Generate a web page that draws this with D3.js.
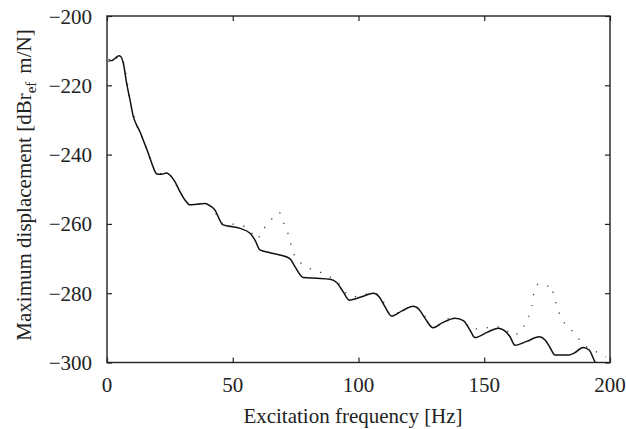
<!DOCTYPE html>
<html>
<head>
<meta charset="utf-8">
<script src="https://cdn.jsdelivr.net/npm/d3@7"></script>
<style>
  body { margin: 0; background: #fff; }
</style>
</head>
<body>
<script>
// solid curve: frequency [Hz] and displacement [dB]
const solidFreq = [0.6, 1.9, 3.2, 4.8, 5.45, 6.5, 7.8, 9.15, 10.5, 11.8, 13.1, 14.4, 16.4, 17.8, 19.1, 19.8,
  21.7, 23.7, 25.0, 27.0, 29.0, 31.0, 33.0, 35.7, 39.0, 41.0, 43.0, 44.65, 45.9, 48.2, 52.9, 56.9,
  58.8, 60.8, 64.8, 69.5, 72.8, 74.8, 78.1, 83.4, 88.7, 91.3, 94.0, 96.3, 101.3, 105.9, 108.2, 110.5,
  113.2, 117.3, 121.8, 124.1, 126.4, 129.7, 133.4, 138.4, 141.7, 144.3, 146.3, 151.1, 155.6, 157.6,
  160.2, 162.2, 166.9, 171.8, 174.2, 176.1, 178.1, 183.7, 185.7, 189.3, 191.7, 194.0, 195.0]
const solidDisp = [-212.6, -212.9, -212.2, -211.5, -211.7, -213.65, -219.4, -224.2, -229.1, -231.5, -233.4, -235.8, -239.6, -242.5, -244.9, -245.6,
  -245.7, -245.3, -245.9, -247.8, -250.7, -253.1, -254.5, -254.3, -254.1, -254.8, -256.1, -258.6, -260.2, -260.6, -261.3, -262.7,
  -264.6, -267.5, -268.3, -269.1, -270.1, -272.4, -275.5, -275.7, -276.0, -276.9, -279.7, -282.0, -281.0, -280.0, -281.0, -283.9,
  -286.6, -285.1, -283.8, -284.7, -287.2, -290.0, -288.5, -287.2, -287.9, -290.6, -292.8, -291.3, -290.1, -290.6,
  -292.5, -295.0, -293.9, -292.6, -293.5, -295.6, -297.8, -297.8, -297.3, -295.7, -296.4, -299.8, -301.0]

// dotted curve
const dotFreq = [0.6, 2.0, 3.6, 5.4, 6.8, 9.15, 11.8, 14.4, 17.8, 19.8, 23.7, 25.0, 29.0, 33.0, 39.0, 41.0,
  44.65, 46.1, 48.2, 52.9, 56.9, 59.8, 61.5, 63.5, 65.5, 67.7, 68.5, 70.1, 71.85, 73.0, 74.35, 77.0,
  80.7, 85.0, 88.9, 91.45, 94.0, 97.9, 101.3, 105.9, 108.5, 113.2, 117.8, 121.8, 124.5, 130.0, 133.5,
  137.7, 141.7, 144.7, 149.4, 153.6, 157.9, 160.9, 163.9, 166.4, 168.2, 169.3, 169.8, 171.8, 173.4,
  174.95, 176.4, 177.6, 178.9, 180.5, 182.9, 186.2, 188.9, 192.5, 196.3, 198.4]
const dotDisp = [-213.0, -213.65, -212.3, -211.7, -213.9, -224.2, -231.5, -235.8, -242.5, -245.6, -245.3, -245.9, -250.7, -254.5, -254.1, -254.8,
  -258.6, -259.9, -260.0, -260.3, -262.0, -264.4, -262.0, -260.5, -258.6, -256.9, -256.7, -259.5, -262.5, -265.6, -268.8, -271.2,
  -272.9, -274.0, -275.4, -276.5, -279.1, -281.0, -280.5, -279.9, -280.8, -286.3, -284.8, -283.8, -284.7, -290.2, -288.0,
  -287.1, -287.7, -290.3, -290.2, -289.7, -290.0, -292.1, -291.4, -288.7, -285.6, -282.5, -279.4, -277.3, -277.5,
  -278.0, -277.5, -280.6, -283.8, -286.9, -289.5, -291.8, -294.5, -296.2, -297.5, -298.4]

const xTicks = [0, 50, 100, 150, 200]
const yTicks = [-300, -280, -260, -240, -220, -200]

const W = 626, H = 429
const margin = {top: 16, right: 16, bottom: 66.5, left: 107}
const width = W - margin.left - margin.right
const height = H - margin.top - margin.bottom
const serif = 'Liberation Serif'

const svg = d3.select('body').append('svg')
    .attr('width', W)
    .attr('height', H)

const xScale = d3.scaleLinear().domain([0, 200]).range([margin.left, margin.left + width])
const yScale = d3.scaleLinear().domain([-300, -200]).range([margin.top + height, margin.top])

svg.append('defs').append('clipPath').attr('id', 'plotclip')
  .append('rect')
    .attr('x', margin.left).attr('y', margin.top)
    .attr('width', width).attr('height', height)

const solid = solidFreq.map((f, i) => ({f: f, v: solidDisp[i]}))
const dotted = dotFreq.map((f, i) => ({f: f, v: dotDisp[i]}))

const line = d3.line()
    .x(d => xScale(d.f))
    .y(d => yScale(d.v))
    .curve(d3.curveMonotoneX)

const plot = svg.append('g').attr('clip-path', 'url(#plotclip)')

plot.append('path')
    .datum(dotted)
    .attr('d', line)
    .attr('fill', 'none')
    .attr('stroke', '#444')
    .attr('stroke-width', 1.3)
    .attr('stroke-dasharray', '1.3,9.7')

plot.append('path')
    .datum(solid)
    .attr('d', line)
    .attr('fill', 'none')
    .attr('stroke', '#111')
    .attr('stroke-width', 1.5)

// axes with inward ticks, mirrored on top and right
const tk = 5
svg.append('g')
    .attr('transform', 'translate(0,' + (margin.top + height) + ')')
    .call(d3.axisTop(xScale).tickValues(xTicks).tickSize(tk).tickFormat(''))
svg.append('g')
    .attr('transform', 'translate(0,' + margin.top + ')')
    .call(d3.axisBottom(xScale).tickValues(xTicks).tickSize(tk).tickFormat(''))
svg.append('g')
    .attr('transform', 'translate(' + margin.left + ',0)')
    .call(d3.axisRight(yScale).tickValues(yTicks).tickSize(tk).tickFormat(''))
svg.append('g')
    .attr('transform', 'translate(' + (margin.left + width) + ',0)')
    .call(d3.axisLeft(yScale).tickValues(yTicks).tickSize(tk).tickFormat(''))

svg.selectAll('.domain').remove()
svg.selectAll('.tick line').attr('stroke', '#222').attr('stroke-width', 1.2)

svg.append('rect')
    .attr('x', margin.left).attr('y', margin.top)
    .attr('width', width).attr('height', height)
    .attr('fill', 'none')
    .attr('stroke', '#222')
    .attr('stroke-width', 1.4)

// tick labels
svg.selectAll('.xlab').data(xTicks).enter()
  .append('text')
    .attr('x', d => xScale(d))
    .attr('y', margin.top + height + 29)
    .attr('text-anchor', 'middle')
    .attr('font-family', serif)
    .attr('font-size', 21)
    .attr('fill', '#222')
    .text(d => d)

svg.selectAll('.ylab').data(yTicks).enter()
  .append('text')
    .attr('x', margin.left - 15)
    .attr('y', d => yScale(d) + 7.5)
    .attr('text-anchor', 'end')
    .attr('font-family', serif)
    .attr('font-size', 21)
    .attr('fill', '#222')
    .text(d => '\u2212' + Math.abs(d))

svg.append('text')
    .attr('x', 353)
    .attr('y', 423)
    .attr('text-anchor', 'middle')
    .attr('font-family', serif)
    .attr('font-size', 21)
    .attr('fill', '#222')
    .text('Excitation frequency [Hz]')

const ylab = svg.append('text')
    .attr('transform', 'translate(31,185)rotate(-90)')
    .attr('text-anchor', 'middle')
    .attr('font-family', serif)
    .attr('font-size', 21)
    .attr('fill', '#222')
ylab.append('tspan').text('Maximum displacement [dBr')
ylab.append('tspan').attr('dy', 5).attr('font-size', 15).text('ef')
ylab.append('tspan').attr('dy', -5).attr('dx', 8).text('m/N]')
</script>
</body>
</html>
